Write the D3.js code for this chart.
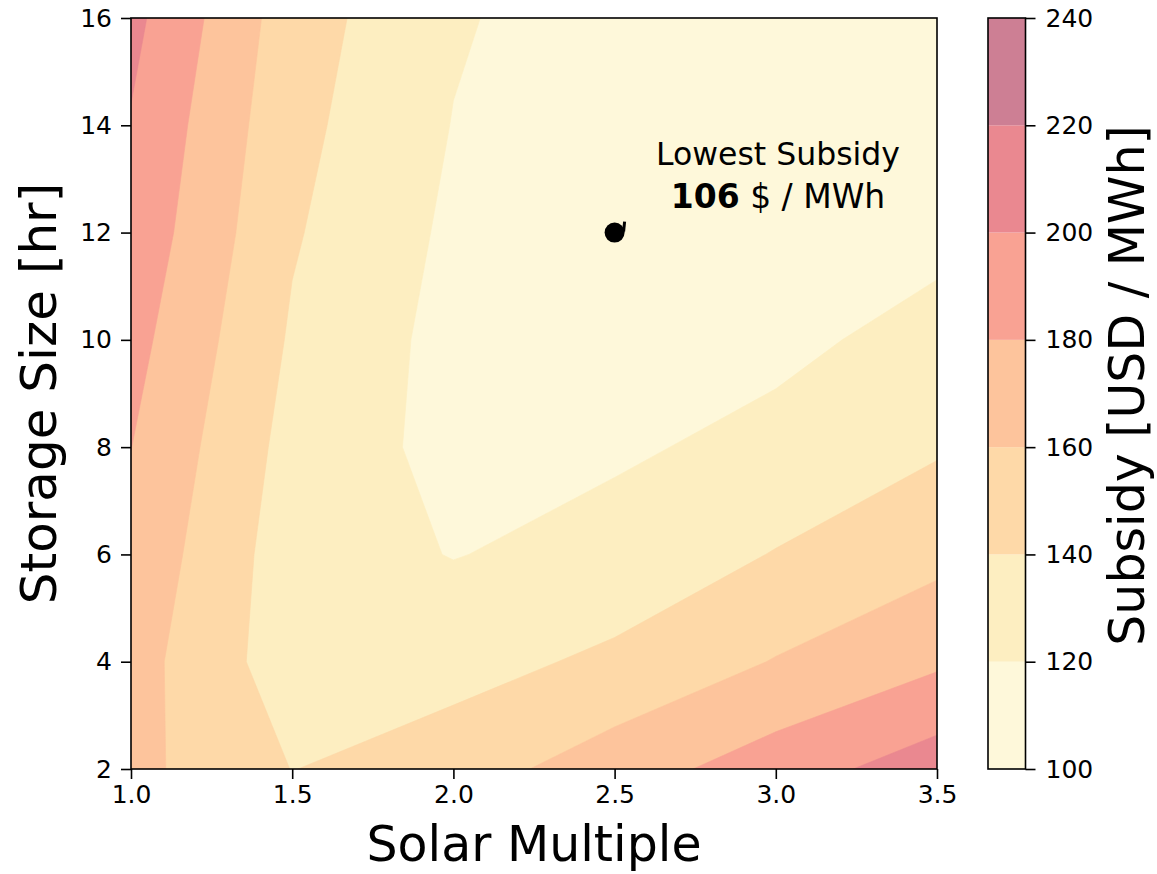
<!DOCTYPE html>
<html><head><meta charset="utf-8">
<script src="https://cdn.jsdelivr.net/npm/d3@7"></script>
<style>
body{margin:0;background:#fff}
text{font-family:"DejaVu Sans",sans-serif;fill:#000}
</style>
</head><body>
<svg id="chart" width="1157" height="874"></svg>
<script>
// ---- data ----
const solarMultiple = [1.0, 1.5, 2.0, 2.5, 3.0, 3.5];
const storageHours  = [2, 4, 6, 8, 10, 12, 14, 16];
// subsidy (USD/MWh) for each storage size, across solar multiples
const subsidy2h  = [165.6, 139.6, 150.6, 170.4, 190.1, 210.7];
const subsidy4h  = [168.1, 128.8, 132.8, 143.9, 161.0, 176.8];
const subsidy6h  = [174.5, 129.3, 119.3, 126.6, 140.9, 154.7];
const subsidy8h  = [180.2, 133.0, 114.0, 117.4, 125.0, 137.9];
const subsidy10h = [186.7, 137.6, 113.7, 109.0, 115.8, 126.0];
const subsidy12h = [193.7, 141.9, 116.4, 106.0, 110.0, 115.3];
const subsidy14h = [198.6, 145.7, 119.4, 108.0, 110.5, 112.5];
const subsidy16h = [205.5, 149.3, 122.0, 110.0, 111.0, 112.0];
const levels = [100, 120, 140, 160, 180, 200, 220, 240];
const bandColors = ["#fef8da", "#fdeec1", "#fed9a8", "#fdc49c", "#f9a293", "#ea8890", "#cd7f94"];
const xTicks = [1.0, 1.5, 2.0, 2.5, 3.0, 3.5];
const yTicks = [2, 4, 6, 8, 10, 12, 14, 16];
const cbTicks = [100, 120, 140, 160, 180, 200, 220, 240];
const bestSM = 2.5, bestHours = 12, bestValue = 106;

// ---- layout ----
const svg = d3.select("#chart");
const M = {left: 131, right: 937, top: 18, bottom: 769};
const x = d3.scaleLinear().domain([1.0, 3.5]).range([M.left, M.right]);
const y = d3.scaleLinear().domain([2, 16]).range([M.bottom, M.top]);

const grid = [subsidy2h, subsidy4h, subsidy6h, subsidy8h, subsidy10h, subsidy12h, subsidy14h, subsidy16h];
const nx = solarMultiple.length, ny = storageHours.length;
const values = grid.flat();
const gx = d3.scaleLinear().domain([0.5, nx - 0.5]).range([solarMultiple[0], solarMultiple[nx - 1]]);
const gy = d3.scaleLinear().domain([0.5, ny - 0.5]).range([storageHours[0], storageHours[ny - 1]]);
const proj = d3.geoTransform({point(px, py) { this.stream.point(x(gx(px)), y(gy(py))); }});
const path = d3.geoPath(proj);
const contours = d3.contours().size([nx, ny]).thresholds(levels.slice(0, -1))(values);

svg.append("clipPath").attr("id", "plotclip").append("rect")
  .attr("x", M.left).attr("y", M.top).attr("width", M.right - M.left).attr("height", M.bottom - M.top);

svg.append("g").attr("clip-path", "url(#plotclip)")
  .selectAll("path").data(contours).join("path")
  .attr("d", path)
  .attr("fill", (d, i) => bandColors[i])
  .attr("stroke", (d, i) => bandColors[i]).attr("stroke-width", 0.6);

// frame
svg.append("rect").attr("x", M.left).attr("y", M.top)
  .attr("width", M.right - M.left).attr("height", M.bottom - M.top)
  .attr("fill", "none").attr("stroke", "#000").attr("stroke-width", 1.6);

function styleAxis(g) {
  g.select(".domain").remove();
  g.selectAll(".tick line").attr("stroke", "#000").attr("stroke-width", 1.6);
  g.selectAll(".tick text").attr("font-size", 25).attr("font-family", "DejaVu Sans").attr("fill", "#000");
}
svg.append("g").attr("transform", `translate(0,${M.bottom})`)
  .call(d3.axisBottom(x).tickValues(xTicks).tickFormat(d3.format(".1f")).tickSize(10).tickPadding(6))
  .call(styleAxis);
svg.append("g").attr("transform", `translate(${M.left},0)`)
  .call(d3.axisLeft(y).tickValues(yTicks).tickFormat(d3.format("d")).tickSize(10).tickPadding(9))
  .call(styleAxis);

svg.append("text").attr("x", (M.left + M.right) / 2).attr("y", 861)
  .attr("text-anchor", "middle").attr("font-size", 49).text("Solar Multiple");
svg.append("text").attr("transform", `translate(56,${(M.top + M.bottom) / 2}) rotate(-90)`)
  .attr("text-anchor", "middle").attr("font-size", 50).text("Storage Size [hr]");

// best point annotation
svg.append("circle").attr("cx", x(bestSM)).attr("cy", y(bestHours)).attr("r", 10).attr("fill", "#000");
svg.append("path")
  .attr("d", `M${x(bestSM) + 10},${y(bestHours) - 11} L${x(bestSM) + 9},${y(bestHours) - 1}`)
  .attr("stroke", "#000").attr("stroke-width", 3).attr("fill", "none");
const ann = svg.append("g");
ann.append("text").attr("x", 778).attr("y", 165).attr("text-anchor", "middle")
  .attr("font-size", 31.5).attr("font-family", "Lato").text("Lowest Subsidy");
const l2 = ann.append("text").attr("x", 778).attr("y", 208).attr("text-anchor", "middle")
  .attr("font-size", 33).attr("font-family", "Lato");
l2.append("tspan").attr("font-weight", "bold").text(bestValue);
l2.append("tspan").text(" $ / MWh");

// colorbar
const CB = {left: 988, width: 37.5};
const cb = d3.scaleLinear().domain([levels[0], levels[levels.length - 1]]).range([M.bottom, M.top]);
svg.append("g").selectAll("rect").data(bandColors).join("rect")
  .attr("x", CB.left).attr("width", CB.width)
  .attr("y", (d, i) => cb(levels[i + 1]))
  .attr("height", (d, i) => cb(levels[i]) - cb(levels[i + 1]))
  .attr("fill", d => d);
svg.append("rect").attr("x", CB.left).attr("y", M.top).attr("width", CB.width)
  .attr("height", M.bottom - M.top).attr("fill", "none").attr("stroke", "#000").attr("stroke-width", 1.6);
svg.append("g").attr("transform", `translate(${CB.left + CB.width},0)`)
  .call(d3.axisRight(cb).tickValues(cbTicks).tickFormat(d3.format("d")).tickSize(10).tickPadding(10))
  .call(styleAxis);
svg.append("text").attr("transform", `translate(1144,${(M.top + M.bottom) / 2 - 8}) rotate(-90)`)
  .attr("text-anchor", "middle").attr("font-size", 49).text("Subsidy [USD / MWh]");
</script>
</body></html>
